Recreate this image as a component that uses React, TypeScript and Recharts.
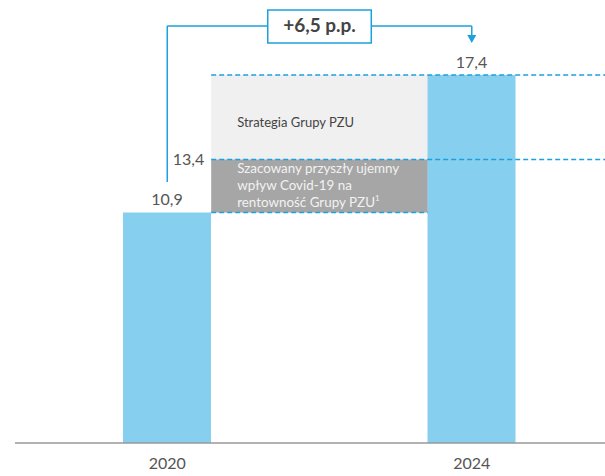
import React from "react";
import {
  ComposedChart,
  Bar,
  XAxis,
  YAxis,
  LabelList,
  ReferenceArea,
  ReferenceLine,
  ReferenceDot,
} from "recharts";

// ---- data ----
const years = [2020, 2024];
const roeValues = [10.9, 17.4];
const covidLevel = 13.4; // level after estimated Covid-19 impact
const deltaLabel = "+6,5 p.p.";
const strategyLabel = "Strategia Grupy PZU";
const covidLines = ["Szacowany przyszły ujemny", "wpływ Covid-19 na", "rentowność Grupy PZU"];

const data = years.map((y, i) => ({ year: y, value: roeValues[i] }));

// ---- layout ----
const W = 605;
const H = 476;
const X_DOMAIN: [number, number] = [2018, 2025.75];
const Y_DOMAIN: [number, number] = [0, 20.9];
const BAR_PX = 88;
const HALF = 0.577; // half bar width in axis units
const BLUE = "#1ba1dc";
const BAR = "#87cfef";
const TXT = "#555555";

const fmt = (v: number) => String(v).replace(".", ",");

const BRACKET_Y = 19.72;
const BRACKET_BOTTOM = 12.34;
const BOX = { x1: 2021.32, x2: 2022.68, y1: 18.91, y2: 20.47 };

const Arrow = (props: any) => {
  const { cx, cy } = props;
  if (cx == null || cy == null) return null;
  return <path d={`M${cx - 4.5},${cy - 1} L${cx + 4.5},${cy - 1} L${cx},${cy + 7} Z`} fill={BLUE} />;
};

const StrategyLabel = (props: any) => {
  const vb = props.viewBox || {};
  return (
    <text x={vb.x + 26} y={vb.y + vb.height / 2 + 6} fill="#444" fontSize={13} dominantBaseline="middle">
      {strategyLabel}
    </text>
  );
};

const CovidLabel = (props: any) => {
  const vb = props.viewBox || {};
  return (
    <text x={vb.x + 26} y={vb.y + 10} fill="#f2f2f2" fontSize={13.4} dominantBaseline="middle">
      <tspan x={vb.x + 26} dy={0}>{covidLines[0]}</tspan>
      <tspan x={vb.x + 26} dy={17}>{covidLines[1]}</tspan>
      <tspan x={vb.x + 26} dy={17}>{covidLines[2]}</tspan>
      <tspan fontSize={8} dy={-5}>1</tspan>
    </text>
  );
};

const DeltaLabel = (props: any) => {
  const vb = props.viewBox || {};
  return (
    <text
      x={vb.x + vb.width / 2}
      y={vb.y + vb.height / 2 + 1}
      fill="#444"
      fontSize={19}
      fontWeight="bold"
      textAnchor="middle"
      dominantBaseline="middle"
    >
      {deltaLabel}
    </text>
  );
};

export default function App() {
  return (
    <div style={{ position: "absolute", left: 0, top: 0, fontFamily: "Lato, 'Open Sans', sans-serif" }}>
      <ComposedChart width={W} height={H} data={data} margin={{ top: 1, right: 0, bottom: 0, left: 15 }}>
        <XAxis
          type="number"
          dataKey="year"
          domain={X_DOMAIN}
          ticks={years}
          allowDataOverflow
          stroke="#999"
          strokeWidth={1.5}
          tickLine={false}
          tickSize={0}
          tickMargin={15}
          height={33}
          tick={{ fill: TXT, fontSize: 16 }}
        />
        <YAxis hide domain={Y_DOMAIN} allowDataOverflow />

        <ReferenceArea
          x1={years[0] + HALF}
          x2={years[1] - HALF}
          y1={covidLevel}
          y2={roeValues[1]}
          fill="#f0f0f0"
          fillOpacity={1}
          stroke="none"
          label={<StrategyLabel />}
        />
        <ReferenceArea
          x1={years[0] + HALF}
          x2={years[1] - HALF}
          y1={roeValues[0]}
          y2={covidLevel}
          fill="#a6a6a6"
          fillOpacity={1}
          stroke="none"
          label={<CovidLabel />}
        />

        <Bar dataKey="value" fill={BAR} barSize={BAR_PX} isAnimationActive={false}>
          <LabelList dataKey="value" position="top" offset={7} fill={TXT} fontSize={16} formatter={(v: any) => fmt(v)} />
        </Bar>

        <ReferenceLine
          segment={[{ x: years[0] + HALF, y: roeValues[1] }, { x: X_DOMAIN[1], y: roeValues[1] }]}
          stroke={BLUE}
          strokeDasharray="5 3"
          strokeWidth={1.5}
        />
        <ReferenceLine
          segment={[{ x: years[0] + HALF, y: covidLevel }, { x: X_DOMAIN[1], y: covidLevel }]}
          stroke={BLUE}
          strokeDasharray="5 3"
          strokeWidth={1.5}
          label={{ value: fmt(covidLevel), position: "left", offset: 7, fill: TXT, fontSize: 16 }}
        />
        <ReferenceLine
          segment={[{ x: years[0] + HALF, y: roeValues[0] }, { x: years[1] - HALF, y: roeValues[0] }]}
          stroke={BLUE}
          strokeDasharray="5 3"
          strokeWidth={1.5}
        />

        {/* bracket */}
        <ReferenceLine
          segment={[{ x: years[0], y: BRACKET_BOTTOM }, { x: years[0], y: BRACKET_Y }]}
          stroke={BLUE}
          strokeWidth={1.5}
        />
        <ReferenceLine
          segment={[{ x: years[0], y: BRACKET_Y }, { x: BOX.x1, y: BRACKET_Y }]}
          stroke={BLUE}
          strokeWidth={1.5}
        />
        <ReferenceLine
          segment={[{ x: BOX.x2, y: BRACKET_Y }, { x: years[1], y: BRACKET_Y }]}
          stroke={BLUE}
          strokeWidth={1.5}
        />
        <ReferenceLine
          segment={[{ x: years[1], y: BRACKET_Y }, { x: years[1], y: 19.25 }]}
          stroke={BLUE}
          strokeWidth={1.5}
        />
        <ReferenceDot x={years[1]} y={19.25} r={4} shape={<Arrow />} />
        <ReferenceArea
          x1={BOX.x1}
          x2={BOX.x2}
          y1={BOX.y1}
          y2={BOX.y2}
          fill="#ffffff"
          fillOpacity={1}
          stroke={BLUE}
          strokeWidth={1.5}
          label={<DeltaLabel />}
        />
      </ComposedChart>
    </div>
  );
}
